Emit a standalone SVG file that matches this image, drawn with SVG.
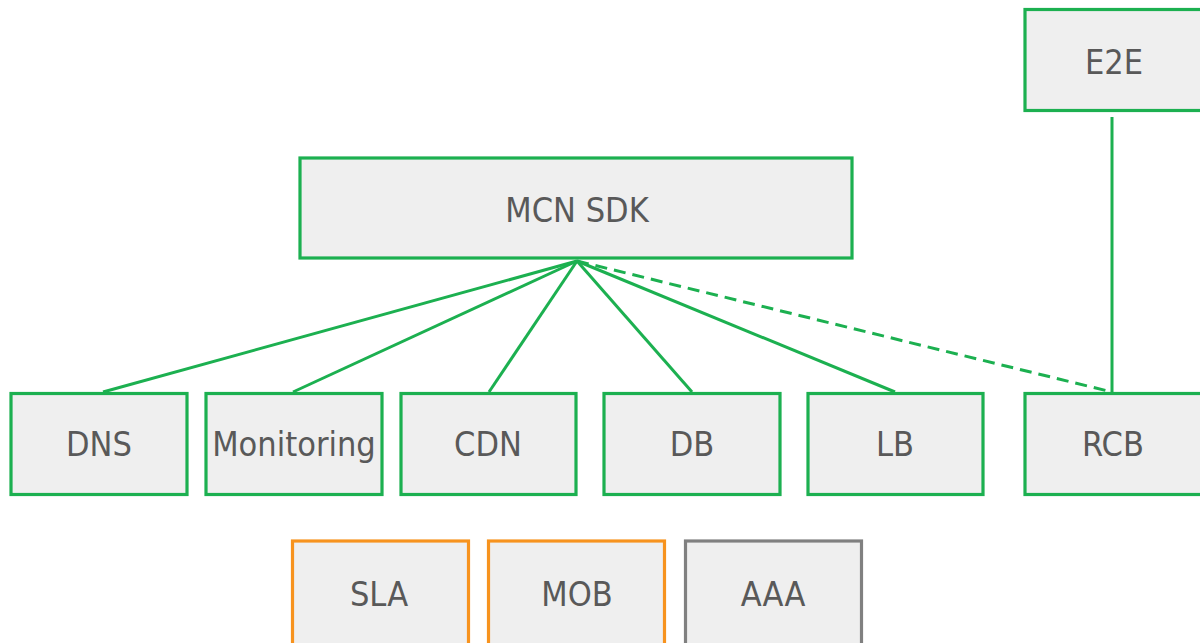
<svg xmlns="http://www.w3.org/2000/svg" width="1200" height="643" viewBox="0 0 1200 643">
  <style>
    .box { fill: #efefef; stroke-width: 3.2; }
    .g { stroke: #1cb050; }
    .o { stroke: #f7931e; }
    .n { stroke: #808080; }
    .label { font-family: "DejaVu Sans Condensed", "DejaVu Sans", sans-serif; font-stretch: condensed; font-size: 34px; fill: #595959; text-anchor: middle; dominant-baseline: central; }
    .link { stroke: #1cb050; stroke-width: 3; fill: none; }
    .dash { stroke-dasharray: 12 7; }
  </style>
  <rect width="1200" height="643" fill="#ffffff"/>

  <g id="connectors">
    <line class="link" x1="577" y1="261" x2="103" y2="392"/>
    <line class="link" x1="577" y1="261" x2="293" y2="392"/>
    <line class="link" x1="577" y1="261" x2="489" y2="392"/>
    <line class="link" x1="577" y1="261" x2="692" y2="392"/>
    <line class="link" x1="577" y1="261" x2="895" y2="392"/>
    <line class="link dash" x1="577" y1="261" x2="1112" y2="392"/>
    <line class="link" x1="1112" y1="117" x2="1112" y2="392"/>
  </g>

  <g id="e2e">
    <rect class="box g" x="1025" y="9.5" width="178" height="101"/>
    <text class="label" x="1114" y="62">E2E</text>
  </g>
  <g id="mcn-sdk">
    <rect class="box g" x="300" y="158" width="552" height="100"/>
    <text class="label" x="577" y="210">MCN SDK</text>
  </g>

  <g id="dns">
    <rect class="box g" x="11" y="393.5" width="176" height="101"/>
    <text class="label" x="99" y="444">DNS</text>
  </g>
  <g id="monitoring">
    <rect class="box g" x="206" y="393.5" width="176" height="101"/>
    <text class="label" x="294" y="444">Monitoring</text>
  </g>
  <g id="cdn">
    <rect class="box g" x="401" y="393.5" width="175" height="101"/>
    <text class="label" x="488" y="444">CDN</text>
  </g>
  <g id="db">
    <rect class="box g" x="604" y="393.5" width="176" height="101"/>
    <text class="label" x="692" y="444">DB</text>
  </g>
  <g id="lb">
    <rect class="box g" x="808" y="393.5" width="175" height="101"/>
    <text class="label" x="895" y="444">LB</text>
  </g>
  <g id="rcb">
    <rect class="box g" x="1025" y="393.5" width="178" height="101"/>
    <text class="label" x="1113" y="444">RCB</text>
  </g>

  <g id="sla">
    <rect class="box o" x="292.5" y="541" width="176" height="106"/>
    <text class="label" x="379" y="594">SLA</text>
  </g>
  <g id="mob">
    <rect class="box o" x="488.5" y="541" width="176" height="106"/>
    <text class="label" x="577" y="594">MOB</text>
  </g>
  <g id="aaa">
    <rect class="box n" x="685.5" y="541" width="176" height="106"/>
    <text class="label" x="773" y="594">AAA</text>
  </g>
</svg>
